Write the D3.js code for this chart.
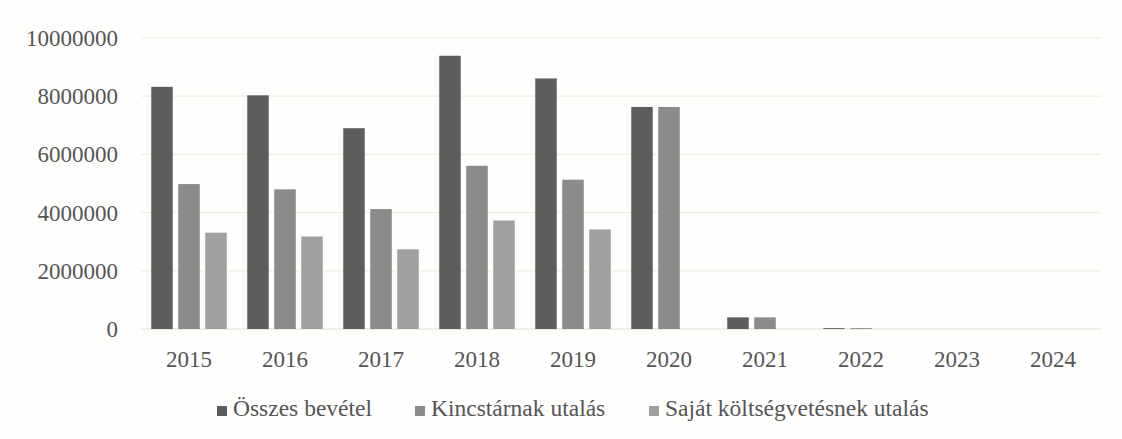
<!DOCTYPE html>
<html>
<head>
<meta charset="utf-8">
<script src="https://cdn.jsdelivr.net/npm/d3@7"></script>
</head>
<body style="margin:0; background:#fefefc">
<svg id="chart" width="1122" height="439"></svg>
<script>
// data
var years = ["2015", "2016", "2017", "2018", "2019", "2020", "2021", "2022", "2023", "2024"]
var seriesNames = ["Összes bevétel", "Kincstárnak utalás", "Saját költségvetésnek utalás"]
var osszes = [8320000, 8030000, 6900000, 9390000, 8610000, 7630000, 400000, 30000, 0, 0]
var kincstar = [4980000, 4800000, 4120000, 5610000, 5130000, 7630000, 400000, 30000, 0, 0]
var sajat = [3310000, 3180000, 2740000, 3730000, 3420000, 0, 0, 0, 0, 0]
var yTicks = [0, 2000000, 4000000, 6000000, 8000000, 10000000]

var colors = ["#5d5e5c", "#8b8c89", "#a0a19e"]
var textColor = "#555"
var font = "'Liberation Serif', serif"

var width = 1122
var height = 439
var margin = { left: 141, right: 21 }

var svg = d3.select("#chart")

var x = d3.scaleBand()
    .domain(years)
    .range([margin.left, width - margin.right])
    .paddingInner(0)
    .paddingOuter(0)

var y = d3.scaleLinear()
    .domain([0, 10000000])
    .range([329, 38])

// inner scale for the three bars of a year
var barW = 21.5
var barGap = 5.5
var inner = d3.scaleOrdinal()
    .domain([0, 1, 2])
    .range([0, barW + barGap, 2 * (barW + barGap)])

// gridlines
svg.append("g")
    .selectAll("line")
    .data(yTicks)
    .enter()
    .append("line")
    .attr("x1", margin.left)
    .attr("x2", width - margin.right)
    .attr("y1", (d) => y(d))
    .attr("y2", (d) => y(d))
    .attr("stroke", (d) => d === 0 ? "#dddcd4" : "#eeeee6")
    .attr("stroke-width", 1.2)

// y axis labels
svg.append("g")
    .selectAll("text")
    .data(yTicks)
    .enter()
    .append("text")
    .attr("x", 118)
    .attr("y", (d) => y(d))
    .attr("dy", "0.35em")
    .attr("text-anchor", "end")
    .style("font-family", font)
    .style("font-size", "23px")
    .attr("fill", textColor)
    .text((d) => d3.format("d")(d))

// bars
var series = [osszes, kincstar, sajat]
var clusterW = 3 * barW + 2 * barGap

series.forEach(function (vals, si) {
    svg.append("g")
        .selectAll("rect")
        .data(vals.map((v, i) => ({ year: years[i], value: v })).filter((d) => d.value > 0))
        .enter()
        .append("rect")
        .attr("x", (d) => x(d.year) + (x.bandwidth() - clusterW) / 2 + inner(si))
        .attr("width", barW)
        .attr("y", (d) => y(d.value))
        .attr("height", (d) => y(0) - y(d.value))
        .attr("fill", colors[si])
})

// x labels
svg.append("g")
    .selectAll("text")
    .data(years)
    .enter()
    .append("text")
    .attr("x", (d) => x(d) + x.bandwidth() / 2)
    .attr("y", 367)
    .attr("text-anchor", "middle")
    .style("font-family", font)
    .style("font-size", "23px")
    .attr("fill", textColor)
    .text((d) => d)

// legend
var legendX = [217, 415, 649]
var legend = svg.append("g")
    .selectAll("g")
    .data(seriesNames)
    .enter()
    .append("g")
    .attr("transform", (d, i) => "translate(" + legendX[i] + ",0)")

legend.append("rect")
    .attr("x", 0)
    .attr("y", 406)
    .attr("width", 10)
    .attr("height", 10)
    .attr("fill", (d, i) => colors[i])

legend.append("text")
    .attr("x", 16)
    .attr("y", 416)
    .style("font-family", font)
    .style("font-size", "23.5px")
    .attr("fill", textColor)
    .text((d) => d)
</script>
</body>
</html>
